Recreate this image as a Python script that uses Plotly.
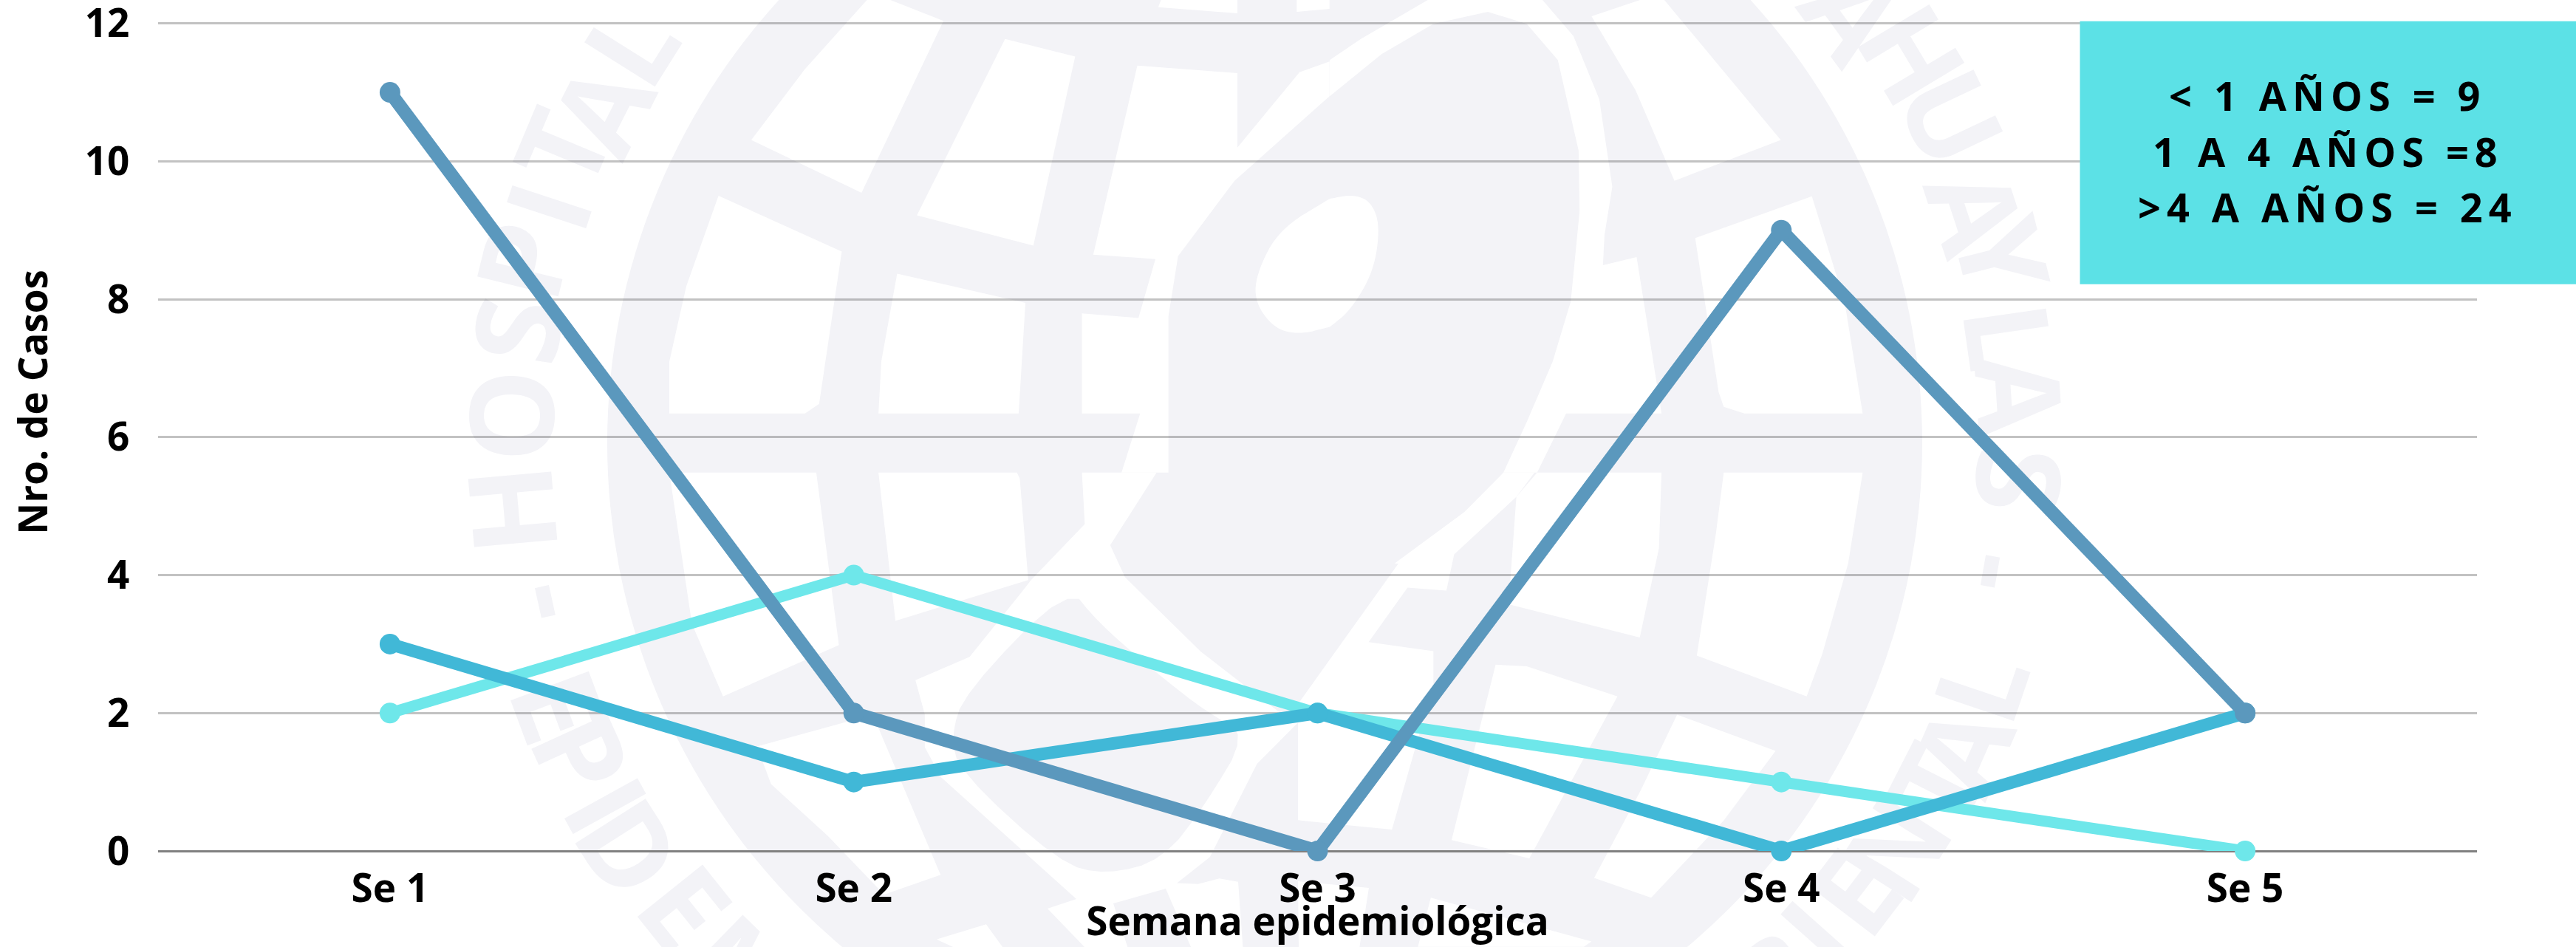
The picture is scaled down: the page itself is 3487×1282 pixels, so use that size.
import math
import plotly.graph_objects as go

# ---- chart data ----
categories = ["Se 1", "Se 2", "Se 3", "Se 4", "Se 5"]
menor_1 = [2, 4, 2, 1, 0]
de_1_a_4 = [3, 1, 2, 0, 2]
mayor_4 = [11, 2, 0, 9, 2]
y_ticks = [0, 2, 4, 6, 8, 10, 12]
box_lines = ["< 1 AÑOS = 9", "1 A 4 AÑOS =8", ">4 A AÑOS = 24"]

LIGHT, MID, DARK = "#6EE7EA", "#41B8D7", "#5B98BD"
GREY, WHITE = "#F3F3F7", "#FFFFFF"
L, R, T, B, W, H = 214, 3353, 27.33, 1152, 3487, 1282
FONT = "Open Sans"


def px(X):
    return (X - L) / (R - L)


def py(Y):
    return (B - Y) / (B - T)


# ---- faint watermark logo (decoration, in page pixels) ----
def z3(p): return [(1000 + x / 1.568, 700 + y / 2.694) for x, y in p]
def z4(p): return [(600 + x / 1.307, y / 2.45) for x, y in p]
def z5(p): return [(1800 + x / 1.425, y / 2.45) for x, y in p]
def z6(p): return [(600 + x / 1.307, 640 + y / 2.443) for x, y in p]
def z7(p): return [(1800 + x / 1.425, 640 + y / 2.443) for x, y in p]


def smooth(points, rounds=3):
    pts = points
    for _ in range(rounds):
        out = []
        for i, (x0, y0) in enumerate(pts):
            x1, y1 = pts[(i + 1) % len(pts)]
            out += [(0.75 * x0 + 0.25 * x1, 0.75 * y0 + 0.25 * y1), (0.25 * x0 + 0.75 * x1, 0.25 * y0 + 0.75 * y1)]
        pts = out
    return pts


white_cells = [
    z4([(750, 0), (790, 0), (885, 70), (740, 640), (545, 465), (640, 230)]),
    z4([(994, 130), (1118, 188), (1044, 815), (838, 715)]),
    z4([(1228, 218), (1405, 243), (1405, 490), (1515, 240), (1568, 205), (1568, 320), (1400, 600),
        (1300, 850), (1283, 1050), (1283, 1568), (1200, 1568), (1233, 1372), (1130, 1372), (1130, 1040),
        (1230, 1055), (1260, 860), (1150, 845)]),
    z4([(487, 650), (705, 835), (665, 1340), (640, 1372), (400, 1372), (400, 1200), (430, 950)]),
    z4([(803, 908), (1030, 1005), (1018, 1372), (770, 1372), (775, 1200)]),
    z4([(1265, 25), (1405, 45), (1405, 0), (1270, 0)]),
    z4([(1510, 40), (1568, 30), (1568, 0), (1510, 0)]),
    z5([(190, 0), (410, 0), (470, 120), (520, 330), (545, 620), (530, 780), (527, 880), (592, 853), (640, 1372),
        (456, 1372), (400, 1568), (335, 1568), (380, 1400), (430, 1200), (465, 1000), (482, 700), (480, 500),
        (440, 200), (380, 80), (305, 40), (200, 80), (100, 180), (0, 320), (0, 200), (60, 130)]),
    z5([(505, 55), (600, 0), (645, 0), (870, 465), (665, 600), (590, 300)]),
    z5([(705, 790), (930, 652), (993, 1000), (1028, 1372), (800, 1372), (760, 1350), (750, 1300)]),
    z7([(760, 0), (1028, 0), (1000, 300), (950, 600), (920, 740), (708, 605), (745, 200)]),
    z7([(400, 0), (640, 0), (635, 250), (598, 545), (345, 435), (360, 80)]),
    z7([(335, 0), (395, 0), (360, 80), (240, 270), (225, 390), (150, 380), (75, 560), (200, 590), (200, 700),
        (120, 1180), (0, 1160)]) + z3([(1187, 1105), (1187, 750), (1100, 900), (1000, 1240), (930, 1335), (975, 1338),
                                      (1020, 1318), (1060, 1330), (1070, 1568)])
    + [(1470, 1284), (1418, 1230), (1457, 1217)]
    + z3([(430, 950), (395, 840), (395, 720), (375, 595), (490, 510), (600, 275)])
    + z6([(1040, 355), (1135, 170), (1130, 0), (1262, 0), (1180, 240)]) + z3([(820, 220), (980, 490), (1070, 610),
                                                                           (1165, 735), (1400, 170)])
    + z7([(125, 300), (260, 130)]),
    z7([(320, 635), (380, 640), (555, 740), (385, 1275), (235, 1215)]),
    z7([(670, 800), (860, 920), (760, 1150), (620, 1405), (510, 1340), (600, 1050)]),
    z7([(195, 1405), (505, 1550), (490, 1568), (170, 1568)]),
    z6([(400, 0), (660, 0), (700, 570), (495, 740), (440, 500)]),
    z6([(770, 0), (1015, 0), (1020, 20), (1035, 355), (800, 490)]),
    z6([(555, 905), (760, 800), (880, 1330), (780, 1395), (680, 1200), (580, 1030)]),
    z3([(420, 1540), (525, 1485), (560, 1568), (455, 1568)]),
    [(1757, 1193), (1853, 1202), (1840, 1284), (1758, 1284)],
]
grey_cells = [[(1507, 1223), (1578, 1203), (1613, 1284), (1527, 1284)]]
tongue = smooth(z3([(700, 250), (480, 640), (450, 800), (470, 930), (680, 1260), (780, 1305), (900, 1250), (990, 1050),
                    (1080, 790), (1000, 720), (880, 560), (760, 380)]), 2)
hole = smooth(z4([(1568, 660), (1480, 760), (1440, 900), (1435, 1000), (1470, 1090), (1515, 1110), (1568, 1085)]) + z5(
    [(0, 1085), (40, 1030), (85, 900), (97, 750), (80, 670), (45, 645), (0, 660)]))


def path_shape(points, colour):
    d = "M" + " L".join(f"{px(x):.5f},{py(y):.5f}" for x, y in points) + " Z"
    return dict(type="path", xref="paper", yref="paper", path=d, fillcolor=colour, line_width=0, layer="below")


CX, CY, RING = 1712, 600, 890
shapes = [dict(type="circle", xref="paper", yref="paper", x0=px(CX - RING), x1=px(CX + RING), y0=py(CY + RING),
               y1=py(CY - RING), fillcolor=GREY, line_width=0, layer="below")]
shapes += [path_shape(c, WHITE) for c in white_cells]
shapes += [path_shape(c, GREY) for c in grey_cells]
shapes += [path_shape(tongue, GREY), path_shape(hole, WHITE)]

top_letters = [("H", 700, 689), ("O", 699, 563), ("S", 707, 449), ("P", 715, 355), ("I", 749, 282), ("T", 768, 204),
               ("A", 822, 151), ("L", 860, 65), ("S", 950, -60), ("D", 2440, -60), ("A", 2502, 24), ("H", 2582, 78),
               ("U", 2635, 163), ("A", 2667, 288), ("Y", 2703, 349), ("L", 2712, 457), ("A", 2726, 535),
               ("S", 2726, 649), ("-", 2702, 775), ("-", 730, 816)]
bottom_letters = [("E", 749, 959), ("P", 780, 1025), ("I", 814, 1094), ("D", 845, 1152), ("E", 921, 1233),
                  ("M", 1005, 1325), ("L", 2688, 931), ("A", 2663, 1017), ("T", 2628, 1066), ("N", 2572, 1152),
                  ("E", 2516, 1213), ("I", 2465, 1270), ("B", 2410, 1330)]


def letter_shape(ch, X, Y, flip):
    a = math.degrees(math.atan2(X - CX, -(Y - CY)))
    if flip:
        a += 180
    a = ((a + 180) % 360) - 180
    return dict(type="rect", xref="paper", yref="paper", x0=px(X - 5), x1=px(X + 5), y0=py(Y + 5), y1=py(Y - 5),
                line_width=0, fillcolor="rgba(0,0,0,0)", layer="below",
                label=dict(text=f"<b>{ch}</b>", font=dict(family=FONT, size=158, color=GREY), textangle=a,
                           textposition="middle center", xanchor="center", yanchor="middle"))


shapes += [letter_shape(c, x, y, False) for c, x, y in top_letters]
shapes += [letter_shape(c, x, y, True) for c, x, y in bottom_letters]

# information box
shapes.append(dict(type="rect", xref="paper", yref="paper", x0=px(2815.5), x1=px(3490), y0=py(385), y1=py(29),
                   fillcolor="#5CE1E6", line_width=0, layer="above"))

fig = go.Figure()
for values, colour, lw in ((menor_1, LIGHT, 15), (de_1_a_4, MID, 17), (mayor_4, DARK, 18)):
    fig.add_trace(go.Scatter(x=categories, y=values, mode="lines+markers", cliponaxis=False, showlegend=False,
                             line=dict(color=colour, width=lw), marker=dict(color=colour, size=28)))

tick_font = dict(family=FONT, size=53, color="#000000", weight=700)
box_font = dict(family=FONT, size=54, color="#000000", weight=700)
box_y = [129, 205, 280]
annotations = [dict(xref="paper", yref="paper", x=px(44), y=py(545), text="Nro. de Casos", textangle=-90,
                    showarrow=False, xanchor="center", yanchor="middle", font=tick_font)]
annotations += [dict(xref="paper", yref="paper", x=px(3151), y=py(yy), text=t, showarrow=False, xanchor="center",
                     yanchor="middle", font=box_font) for t, yy in zip(box_lines, box_y)]

fig.update_layout(
    width=W, height=H, margin=dict(l=L, r=W - R, t=T, b=H - B, autoexpand=False),
    paper_bgcolor=WHITE, plot_bgcolor="rgba(0,0,0,0)", showlegend=False, shapes=shapes,
    xaxis=dict(type="category", range=[-0.5, 4.5], showgrid=False, zeroline=False, showline=False, tickfont=tick_font,
               ticks="outside", ticklen=4, tickcolor="rgba(0,0,0,0)",
               title=dict(text="Semana epidemiológica", font=tick_font, standoff=12)),
    yaxis=dict(range=[0, 12.05], tickvals=y_ticks, showgrid=True, gridcolor="rgba(0,0,0,0.24)", gridwidth=3,
               zeroline=True, zerolinecolor="#808080", zerolinewidth=3, showline=False, tickfont=tick_font,
               ticks="outside", ticklen=27, tickcolor="rgba(0,0,0,0)", ticklabeloverflow="allow"),
    annotations=annotations,
)

page_fix = """
document.body.style.margin = '0';
document.querySelectorAll('.annotation-text').forEach(function (t) {
  if (t.textContent.indexOf('AÑOS') >= 0) { t.style.letterSpacing = '8px'; }
});
"""
fig.write_html("out.html", post_script=page_fix, config={"displayModeBar": False})
